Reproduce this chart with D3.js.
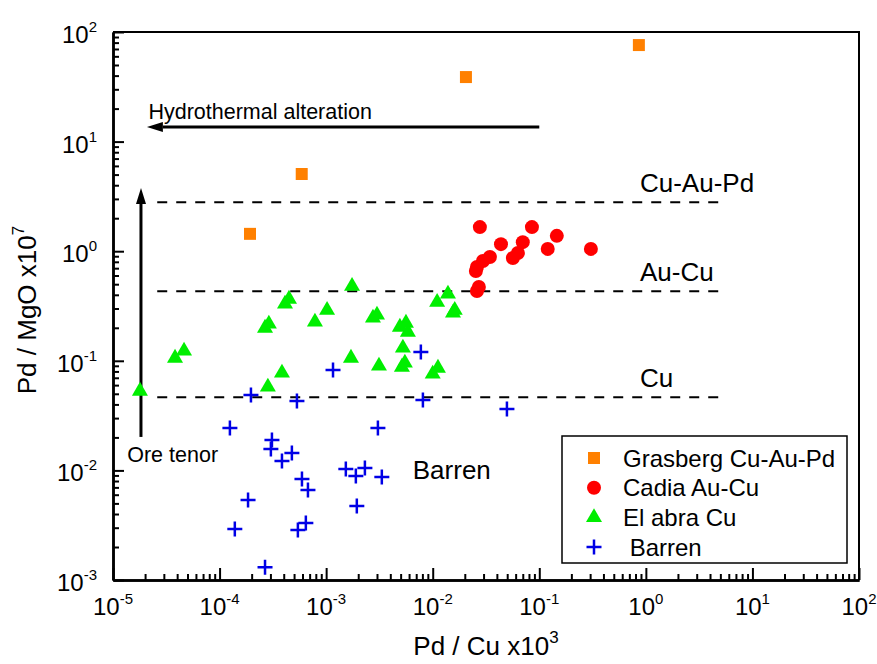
<!DOCTYPE html>
<html>
<head>
<meta charset="utf-8">
<script src="https://cdn.jsdelivr.net/npm/d3@7"></script>
<style>
  body { margin: 0; background: #fff; }
  text { font-family: Arial, "Liberation Sans", sans-serif; fill: #000; }
</style>
</head>
<body>
<script>
// ---- data ----
const grasbergX = [0.86, 0.0205, 5.9e-4, 1.93e-4];
const grasbergY = [76, 38.8, 5.06, 1.44];

const cadiaX = [0.0277, 0.0853, 0.0437, 0.070, 0.146, 0.12, 0.305, 0.0565, 0.063, 0.0344, 0.0296, 0.026, 0.0254, 0.0271, 0.026];
const cadiaY = [1.66, 1.66, 1.16, 1.21, 1.38, 1.05, 1.05, 0.867, 0.963, 0.885, 0.814, 0.718, 0.66, 0.471, 0.433];

const elabraX = [1.79e-5, 3.82e-5, 4.64e-5, 2.67e-4, 2.9e-4, 4.11e-4, 4.48e-4, 7.85e-4, 1.02e-3, 1.75e-3, 2.75e-3, 3.0e-3, 1.71e-3, 3.13e-3,
                 2.84e-4, 3.85e-4, 4.92e-3, 5.61e-3, 5.85e-3, 5.25e-3, 5.14e-3, 5.48e-3, 0.0112, 0.01, 0.011, 0.0139, 0.0161, 0.0155];
const elabraY = [0.053, 0.106, 0.123, 0.199, 0.217, 0.33, 0.366, 0.226, 0.29, 0.48, 0.246, 0.262, 0.106, 0.0898,
                 0.0577, 0.0775, 0.203, 0.221, 0.183, 0.131, 0.0877, 0.0955, 0.0859, 0.0759, 0.343, 0.407, 0.29, 0.273];

const barrenX = [1.97e-4, 5.32e-4, 1.25e-4, 3.1e-4, 3.03e-4, 4.77e-4, 3.85e-4, 5.93e-4, 6.75e-4, 1.85e-4, 1.39e-4, 5.43e-4,
                 6.45e-4, 2.67e-4, 1.16e-3, 7.74e-3, 8.09e-3, 0.0497, 3.06e-3, 1.53e-3, 1.9e-3, 2.31e-3, 3.33e-3, 1.94e-3];
const barrenY = [0.0487, 0.043, 0.0244, 0.0189, 0.0157, 0.0144, 0.0122, 0.00836, 0.00663, 0.00537, 0.00292, 0.00286,
                 0.00331, 0.00131, 0.0824, 0.12, 0.0439, 0.0363, 0.0244, 0.0103, 0.0089, 0.0105, 0.0087, 0.00473];

// threshold lines
const levelNames = ["Cu-Au-Pd", "Au-Cu", "Cu"];
const levelValues = [2.8, 0.43, 0.0466];
const levelRange = [2.6e-5, 5];

// tick exponents
const xExps = [-5, -4, -3, -2, -1, 0, 1, 2];
const yExps = [-3, -2, -1, 0, 1, 2];

const legendNames = ["Grasberg Cu-Au-Pd", "Cadia Au-Cu", "El abra Cu", " Barren"];

// ---- layout ----
var width = 877, height = 664;
var margin = {top: 32, right: 18, bottom: 84, left: 113};

var x = d3.scaleLog().domain([1e-5, 1e2]).range([margin.left, width - margin.right]);
var y = d3.scaleLog().domain([1e-3, 1e2]).range([height - margin.bottom, margin.top]);

var svg = d3.select("body").append("svg")
    .attr("width", width)
    .attr("height", height);

function minors(exps) {
    var out = [];
    for (let i = 0; i < exps.length - 1; i++) {
        for (let k = 2; k <= 9; k++) out.push(k * Math.pow(10, exps[i]));
    }
    return out;
}

// frame (top and right)
svg.append("path")
    .attr("d", "M" + x.range()[0] + "," + y.range()[1] + "H" + x.range()[1] + "V" + y.range()[0])
    .attr("fill", "none").attr("stroke", "#000").attr("stroke-width", 2);

// bottom axis: inward ticks
var gx = svg.append("g").attr("transform", "translate(0," + y.range()[0] + ")");
gx.call(d3.axisBottom(x).tickValues(xExps.map(e => Math.pow(10, e))).tickSize(-12).tickSizeOuter(0).tickFormat(""));
gx.append("g").call(d3.axisBottom(x).tickValues(minors(xExps)).tickSize(-6).tickSizeOuter(0).tickFormat(""));
gx.selectAll(".domain").attr("stroke-width", 2.5);
gx.selectAll(".tick line").attr("stroke-width", 2);

// left axis
var gy = svg.append("g").attr("transform", "translate(" + x.range()[0] + ",0)");
gy.call(d3.axisLeft(y).tickValues(yExps.map(e => Math.pow(10, e))).tickSize(-11).tickSizeOuter(0).tickFormat(""));
gy.append("g").call(d3.axisLeft(y).tickValues(minors(yExps)).tickSize(-6).tickSizeOuter(0).tickFormat(""));
gy.selectAll(".domain").attr("stroke-width", 2.5);
gy.selectAll(".tick line").attr("stroke-width", 2);

// tick labels with superscripts
xExps.forEach(function(e) {
    var t = svg.append("text")
        .attr("x", x(Math.pow(10, e)))
        .attr("y", y.range()[0] + 35)
        .attr("text-anchor", "middle")
        .style("font-size", "24px");
    t.append("tspan").text("10");
    t.append("tspan").attr("dy", -11).style("font-size", "15px").text(e);
});
yExps.forEach(function(e) {
    var t = svg.append("text")
        .attr("x", x.range()[0] - 16)
        .attr("y", y(Math.pow(10, e)) + 11)
        .attr("text-anchor", "end")
        .style("font-size", "24px");
    t.append("tspan").text("10");
    t.append("tspan").attr("dy", -11).style("font-size", "15px").text(e);
});

// axis titles
var xt = svg.append("text")
    .attr("x", (x.range()[0] + x.range()[1]) / 2)
    .attr("y", 655)
    .attr("text-anchor", "middle")
    .style("font-size", "26px");
xt.append("tspan").text("Pd / Cu x10");
xt.append("tspan").attr("dy", -12).style("font-size", "17px").text("3");

var yt = svg.append("text")
    .attr("transform", "translate(36," + ((y.range()[0] + y.range()[1]) / 2 + 4) + ") rotate(-90)")
    .attr("text-anchor", "middle")
    .style("font-size", "26px");
yt.append("tspan").text("Pd / MgO x10");
yt.append("tspan").attr("dy", -12).style("font-size", "17px").text("7");

// dashed threshold lines + labels
levelValues.forEach(function(v, i) {
    svg.append("line")
        .attr("x1", x(levelRange[0])).attr("x2", x(levelRange[1]))
        .attr("y1", y(v)).attr("y2", y(v))
        .attr("stroke", "#000").attr("stroke-width", 2)
        .attr("stroke-dasharray", "10,9");
    svg.append("text")
        .attr("x", x(0.88))
        .attr("y", y(v) - 10)
        .style("font-size", "26px")
        .text(levelNames[i]);
});

// arrows
function arrow(x1, y1, x2, y2) {
    var ang = Math.atan2(y2 - y1, x2 - x1), L = 16, W = 5;
    var bx = x2 - L * Math.cos(ang), by = y2 - L * Math.sin(ang);
    svg.append("line").attr("x1", x1).attr("y1", y1).attr("x2", bx).attr("y2", by)
        .attr("stroke", "#000").attr("stroke-width", 3);
    svg.append("path")
        .attr("d", "M" + x2 + "," + y2 +
            "L" + (bx - W * Math.sin(ang)) + "," + (by + W * Math.cos(ang)) +
            "L" + (bx + W * Math.sin(ang)) + "," + (by - W * Math.cos(ang)) + "Z")
        .attr("fill", "#000");
}
arrow(x(0.1), y(13.6), x(2.08e-5), y(13.6));
svg.append("text").attr("x", x(2.15e-5)).attr("y", y(13.6) - 8)
    .style("font-size", "21.5px").text("Hydrothermal alteration");

arrow(x(1.83e-5), y(0.0202), x(1.83e-5), y(3.78));
svg.append("text").attr("x", x(1.36e-5)).attr("y", y(0.0202) + 25)
    .style("font-size", "21.5px").text("Ore tenor");

svg.append("text").attr("x", x(6.5e-3)).attr("y", y(0.0202) + 42)
    .style("font-size", "26px").text("Barren");

// markers
var sq = d3.symbol(d3.symbolSquare, 144)();
var tri = d3.symbol(d3.symbolTriangle, 111)();
var plus = "M-7.5,0H7.5M0,-7.5V7.5";

svg.append("g").selectAll("path")
    .data(d3.zip(grasbergX, grasbergY)).enter().append("path")
    .attr("d", sq).attr("fill", "#ff8000")
    .attr("transform", d => "translate(" + x(d[0]) + "," + y(d[1]) + ")");

svg.append("g").selectAll("path")
    .data(d3.zip(elabraX, elabraY)).enter().append("path")
    .attr("d", tri).attr("fill", "#00ee00")
    .attr("transform", d => "translate(" + x(d[0]) + "," + y(d[1]) + ")");

svg.append("g").selectAll("circle")
    .data(d3.zip(cadiaX, cadiaY)).enter().append("circle")
    .attr("r", 7).attr("fill", "#ff0000")
    .attr("cx", d => x(d[0])).attr("cy", d => y(d[1]));

svg.append("g").selectAll("path")
    .data(d3.zip(barrenX, barrenY)).enter().append("path")
    .attr("d", plus).attr("stroke", "#0000e6").attr("stroke-width", 2.5).attr("fill", "none")
    .attr("transform", d => "translate(" + x(d[0]) + "," + y(d[1]) + ")");

// legend
var lg = svg.append("g").attr("transform", "translate(562,436)");
lg.append("rect").attr("width", 285).attr("height", 127)
    .attr("fill", "#fff").attr("stroke", "#000").attr("stroke-width", 1.5);
var rows = lg.selectAll(".row").data(legendNames).enter().append("g")
    .attr("transform", (d, i) => "translate(32," + (22 + i * 29.7) + ")");
rows.append("text").attr("x", 29).attr("y", 8.5).style("font-size", "24px").text(d => d)
    .attr("xml:space", "preserve");
rows.filter((d, i) => i === 0).append("path").attr("d", sq).attr("fill", "#ff8000");
rows.filter((d, i) => i === 1).append("circle").attr("r", 7).attr("fill", "#ff0000");
rows.filter((d, i) => i === 2).append("path").attr("d", tri).attr("fill", "#00ee00");
rows.filter((d, i) => i === 3).append("path").attr("d", plus).attr("stroke", "#0000e6")
    .attr("stroke-width", 2.5).attr("fill", "none");
</script>
</body>
</html>
